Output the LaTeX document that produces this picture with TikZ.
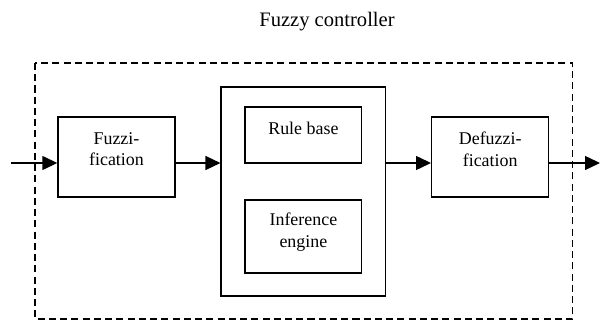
\documentclass[tikz,border=0pt]{standalone}
\usepackage{fontspec}
\setmainfont{Liberation Serif}
\usepackage{tikz}
\usetikzlibrary{arrows.meta}

\tikzset{
  block/.style={draw, line width=0.8pt, minimum width=2.34cm, minimum height=1.6cm, inner sep=0pt},
  lbl/.style={align=center, font=\fontsize{10.2}{12.3}\selectfont, inner sep=0pt},
  flow/.style={line width=0.8pt, -{Triangle[length=0.3cm,width=0.28cm]}},
  frame/.style={line width=0.8pt, dash pattern=on 4pt off 2.4pt}
}

\begin{document}
\begin{tikzpicture}[x=0.02cm,y=-0.02cm]
	\useasboundingbox (0,0) rectangle (601,320);
	\node[font=\fontsize{11.7}{14}\selectfont] (title) at (327,22) {Fuzzy controller};
	\draw[frame] (35,63) rectangle (572.7,319);
	
	\node[block] (fuzz) at (116.5,157) {};
	\node[lbl] (fuzztxt) at ([yshift=0.16cm]fuzz) {Fuzzi-\\fication};
	\node[block, minimum width=3.29cm, minimum height=4.18cm] (infsys) at (303.4,191.5) {};
	\node[block, minimum width=2.33cm, minimum height=1.12cm] (rules) at (303.4,135) {};
	\node[lbl] (rulestxt) at ([yshift=0.13cm]rules) {Rule base};
	\node[block, minimum width=2.33cm, minimum height=1.46cm] (engine) at (303.4,236.5) {};
	\node[lbl] (enginetxt) at ([yshift=0.09cm]engine) {Inference\\engine};
	\node[block] (defuzz) at (490.2,157) {};
	\node[lbl] (defuzztxt) at ([yshift=0.16cm]defuzz) {Defuzzi-\\fication};
	
	\coordinate (input) at (11,163);
	\coordinate (output) at (600,163);
	\draw[flow] (input) -- (input -| fuzz.west);
	\draw[flow] (input -| fuzz.east) -- (input -| infsys.west);
	\draw[flow] (input -| infsys.east) -- (input -| defuzz.west);
	\draw[flow] (input -| defuzz.east) -- (output);
\end{tikzpicture}
\end{document}
